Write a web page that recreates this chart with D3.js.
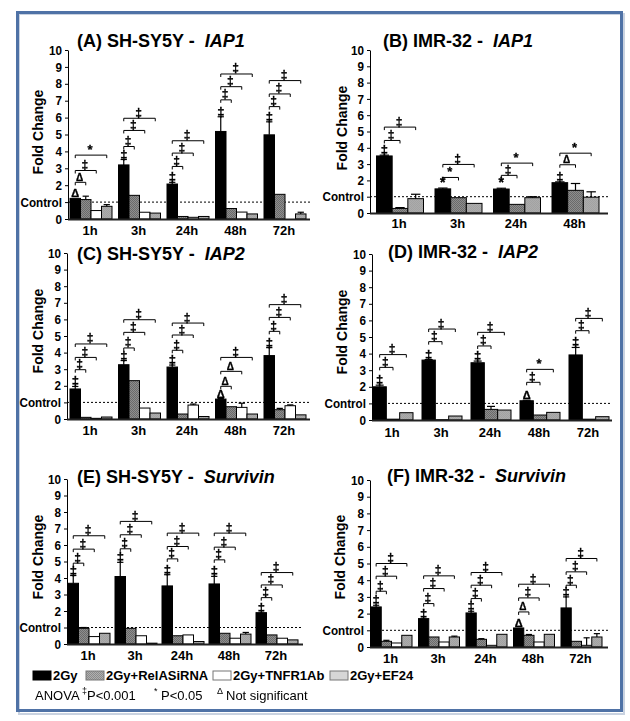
<!DOCTYPE html>
<html><head><meta charset="utf-8">
<script src="https://cdn.jsdelivr.net/npm/d3@7"></script>
<style>body{margin:0;background:#fff} text{font-family:"Liberation Sans",Arial,sans-serif;fill:#000}</style>
</head><body><svg id="c" width="630" height="721"></svg>
<script>
// ---------------- DATA ----------------
const timepoints = ["1h","3h","24h","48h","72h"];
const seriesNames = ["2Gy","2Gy+RelASiRNA","2Gy+TNFR1Ab","2Gy+EF24"];
const panelLetters = ["A","B","C","D","E","F"];
const cellLines = ["SH-SY5Y","IMR-32","SH-SY5Y","IMR-32","SH-SY5Y","IMR-32"];
const genes = ["IAP1","IAP1","IAP2","IAP2","Survivin","Survivin"];
const yTicks = [0,1,2,3,4,5,6,7,8,9,10];
const yTickLabels = ["0","Control","2","3","4","5","6","7","8","9","10"];

// (A) SH-SY5Y IAP1
const seriesA = [0,1,2,3];
const meanA = [[1.22,3.2,2.07,5.18,4.98],[1.15,1.4,0.15,0.62,1.46],[0.5,0.4,0.1,0.41,0],[0.75,0.35,0.15,0.3,0.3]];
const errA  = [[0,0.32,0.1,0.87,0.77],[0.2,0,0,0,0],[0,0,0,0,0],[0.1,0,0,0,0.1]];
const sigA  = ["Δ","‡","‡","‡","‡"];
const bracketA = [[[2.17,"Δ"],[2.87,"‡"],[3.78,"*"]],[[4.29,"‡"],[5.24,"‡"],[5.96,"‡"]],[[3.11,"‡"],[3.9,"‡"],[4.63,"‡"]],[[7.05,"‡"],[7.83,"‡"],[8.58,"‡"]],[[6.65,"‡"],[7.4,"‡"],[8.19,"‡"]]];

// (B) IMR-32 IAP1
const seriesB = [0,1,3];
const meanB = [[3.5,1.48,1.47,1.86],[0.28,0.94,0.53,1.39],[0.88,0.59,0.94,0.97]];
const errB  = [[0.05,0.05,0.05,0.05],[0.05,0,0,0.42],[0.27,0,0.06,0.33]];
const sigB  = ["‡","*","*","‡"];
const bracketB = [[[4.45,"‡"],[5.27,"‡"]],[[2.18,"*"],[2.98,"‡"]],[[2.31,"‡"],[3.06,"*"]],[[2.96,"Δ"],[3.67,"*"]]];

// (C) SH-SY5Y IAP2
const seriesC = [0,1,2,3];
const meanC = [[1.81,3.27,3.13,1.2,3.82],[0.1,2.31,0.3,0.74,0.56],[0.04,0.66,0.84,0.7,0.8],[0.12,0.36,0.15,0.3,0.25]];
const errC  = [[0.15,0.25,0.12,0.03,0.48],[0,0,0,0,0.08],[0,0,0.06,0.25,0.05],[0,0,0,0,0]];
const sigC  = ["‡","‡","‡","Δ","‡"];
const bracketC = [[[2.97,"‡"],[3.71,"‡"],[4.52,"‡"]],[[4.28,"‡"],[5.22,"‡"],[5.98,"‡"]],[[4.14,"‡"],[5.06,"‡"],[5.78,"‡"]],[[1.97,"Δ"],[2.87,"Δ"],[3.71,"‡"]],[[5.28,"‡"],[6.12,"‡"],[6.89,"‡"]]];

// (D) IMR-32 IAP2
const seriesD = [0,1,3];
const meanD = [[2.0,3.61,3.45,1.16,3.92],[0.05,0.02,0.64,0.3,0.05],[0.44,0.24,0.6,0.46,0.2]];
const errD  = [[0.1,0.03,0.1,0.03,0.45],[0,0,0.18,0,0],[0,0,0,0,0]];
const sigD  = ["‡","‡","‡","Δ","‡"];
const bracketD = [[[3.17,"‡"],[3.94,"‡"]],[[4.72,"‡"],[5.48,"‡"]],[[4.46,"‡"],[5.28,"‡"]],[[2.27,"‡"],[3.05,"*"]],[[5.38,"‡"],[6.12,"‡"]]];

// (E) SH-SY5Y Survivin
const seriesE = [0,1,2,3];
const meanE = [[3.68,4.09,3.52,3.64,1.9],[0.95,0.95,0.5,0.65,0.55],[0.45,0.5,0.55,0.35,0.35],[0.65,0.05,0.15,0.6,0.25]];
const errE  = [[0.47,0.86,0.68,0.46,0],[0.05,0,0,0,0],[0,0,0,0,0],[0,0,0,0.1,0]];
const sigE  = ["‡","‡","‡","‡","‡"];
const bracketE = [[[4.9,"‡"],[5.75,"‡"],[6.56,"‡"]],[[5.77,"‡"],[6.62,"‡"],[7.43,"‡"]],[[5.16,"‡"],[5.91,"‡"],[6.72,"‡"]],[[5.1,"‡"],[5.87,"‡"],[6.72,"‡"]],[[2.81,"‡"],[3.58,"‡"],[4.33,"‡"]]];

// (F) IMR-32 Survivin
const seriesF = [0,1,2,3];
const meanF = [[2.4,1.7,2.04,1.14,2.34],[0.34,0.6,0.46,0.7,0.34],[0.24,0.3,0.1,0.3,0.1],[0.7,0.6,0.76,0.76,0.6]];
const errF  = [[0.1,0,0.1,0,0.66],[0.06,0,0.04,0.05,0],[0,0,0,0,0.45],[0,0.05,0,0,0.2]];
const sigF  = ["‡","‡","‡","Δ","‡"];
const bracketF = [[[3.34,"‡"],[4.24,"‡"],[5.0,"‡"]],[[2.6,"‡"],[3.5,"‡"],[4.26,"‡"]],[[2.9,"‡"],[3.7,"‡"],[4.46,"‡"]],[[2.1,"Δ"],[2.94,"‡"],[3.76,"‡"]],[[3.7,"‡"],[4.5,"‡"],[5.3,"‡"]]];

const panelData = [
  {series:seriesA, mean:meanA, err:errA, sig:sigA, br:bracketA},
  {series:seriesB, mean:meanB, err:errB, sig:sigB, br:bracketB},
  {series:seriesC, mean:meanC, err:errC, sig:sigC, br:bracketC},
  {series:seriesD, mean:meanD, err:errD, sig:sigD, br:bracketD},
  {series:seriesE, mean:meanE, err:errE, sig:sigE, br:bracketE},
  {series:seriesF, mean:meanF, err:errF, sig:sigF, br:bracketF}
];

// ---------------- LAYOUT ----------------
const layout = [
 {x0:68,x1:310,yb:219,yt:50,gs:70,step:48.5,gw:42,tx:77,ty:47,ly:235,fx:38,fy:132},
 {x0:370,x1:608,yb:213,yt:50,gs:376.5,step:58.5,gw:47,tx:383,ty:47,ly:228,fx:342,fy:128},
 {x0:67,x1:310,yb:419,yt:253,gs:70,step:48.5,gw:42,tx:77,ty:260,ly:435,fx:38,fy:331},
 {x0:372,x1:612,yb:420,yt:254,gs:373,step:49,gw:40,tx:388,ty:258,ly:437,fx:342,fy:332},
 {x0:67,x1:303,yb:644,yt:479,gs:68,step:47,gw:42,tx:77,ty:483,ly:660,fx:38,fy:557},
 {x0:370,x1:608,yb:647,yt:480,gs:371,step:47.5,gw:41,tx:387,ty:482,ly:663,fx:340,fy:557}
];

const symFont = "'DejaVu Sans',sans-serif";
const svg = d3.select("#c");
const defs = svg.append("defs");
function checker(id, base, dot){
  const p = defs.append("pattern").attr("id",id).attr("width",2).attr("height",2).attr("patternUnits","userSpaceOnUse");
  p.append("rect").attr("width",2).attr("height",2).attr("fill",base);
  p.append("rect").attr("width",1).attr("height",1).attr("fill",dot);
  p.append("rect").attr("x",1).attr("y",1).attr("width",1).attr("height",1).attr("fill",dot);
}
checker("pRel","#8e8e8e","#6a6a6a");
checker("pRelLeg","#b0b0b0","#8a8a8a");
checker("pEF","#acacac","#a2a2a2");
const grayF = defs.append("filter").attr("id","gray");
grayF.append("feColorMatrix").attr("type","saturate").attr("values",0);
const barFill = ["#000","url(#pRel)","#fff","url(#pEF)"];
const legFill = ["#000","url(#pRelLeg)","#fff","#d6d6d6"];

// frame
svg.append("rect").attr("x",19).attr("y",14).attr("width",605).attr("height",700).attr("fill","none").attr("stroke","#c9d2e0").attr("stroke-width",2);
svg.append("rect").attr("x",17.5).attr("y",12.5).attr("width",604).attr("height",698).attr("fill","none").attr("stroke","#4f72a6").attr("stroke-width",3);

function symSize(s){ return s==="‡"?12:(s==="Δ"?10:13); }

panelData.forEach((pd,pi)=>{
  const L = layout[pi];
  const n = pd.mean[0].length;
  const tps = timepoints.slice(0,n);
  const g = svg.append("g");
  const x = d3.scaleBand().domain(tps).range([L.gs, L.gs+(n-1)*L.step+L.gw]).paddingInner((L.step-L.gw)/L.step).paddingOuter(0);
  const xi = d3.scaleBand().domain(pd.series).range([0, x.bandwidth()]);
  const y = d3.scaleLinear().domain([0,10]).range([L.yb, L.yt]);

  // control dotted line
  g.append("line").attr("x1",L.x0).attr("x2",L.x1).attr("y1",y(1)).attr("y2",y(1))
    .attr("stroke","#000").attr("stroke-width",1).attr("stroke-dasharray","2,2");

  // bars
  pd.series.forEach((s,r)=>{
    tps.forEach((tp,i)=>{
      const v = pd.mean[r][i];
      const bx = x(tp)+xi(s), bw = xi.bandwidth();
      if (v>0) g.append("rect").attr("x",bx).attr("y",y(v)).attr("width",bw).attr("height",L.yb-y(v))
        .attr("fill",barFill[s]).attr("stroke","#000").attr("stroke-width",1);
      const e = pd.err[r][i];
      if (e>0){
        const cx = bx+bw/2;
        g.append("line").attr("x1",cx).attr("x2",cx).attr("y1",y(v)).attr("y2",y(v+e)).attr("stroke","#000").attr("stroke-width",1.2);
        g.append("line").attr("x1",cx-bw*0.3).attr("x2",cx+bw*0.3).attr("y1",y(v+e)).attr("y2",y(v+e)).attr("stroke","#000").attr("stroke-width",1.2);
      }
    });
  });

  // annotations
  const ga = g.append("g").attr("filter","url(#gray)");
  const s0 = pd.series[0];
  tps.forEach((tp,i)=>{
    const cx0 = x(tp)+xi(s0)+xi.bandwidth()/2;
    const top = pd.mean[0][i]+pd.err[0][i];
    const sym = pd.sig[i];
    ga.append("text").attr("x",cx0).attr("y",y(top)-1).attr("text-anchor","middle")
      .attr("font-family",symFont).attr("font-weight","bold").attr("font-size",symSize(sym)+1)
      .attr("stroke","#000").attr("stroke-width",0.35).text(sym);
    pd.br[i].forEach((b,k)=>{
      const s = pd.series[k+1];
      const cx1 = x(tp)+xi(s)+xi.bandwidth()/2;
      const by = y(b[0]);
      ga.append("path").attr("d",`M${cx0},${by+3}V${by}H${cx1}V${by+3}`).attr("fill","none").attr("stroke","#000").attr("stroke-width",1);
      ga.append("text").attr("x",(cx0+cx1)/2-1).attr("y",by-1.5).attr("text-anchor","middle")
        .attr("font-family",symFont).attr("font-weight","bold").attr("font-size",symSize(b[1]))
        .attr("stroke","#000").attr("stroke-width",0.3).text(b[1]);
    });
  });

  // y axis
  const ya = g.append("g").attr("transform",`translate(${L.x0},0)`)
    .call(d3.axisLeft(y).tickValues(yTicks).tickFormat((d,i)=>yTickLabels[i]).tickSize(3).tickSizeOuter(0).tickPadding(3));
  ya.selectAll("text").attr("font-weight","bold").attr("font-size",13).attr("fill","#000")
    .attr("font-family","'Liberation Sans',Arial,sans-serif")
    .attr("transform","scale(0.9,1)").attr("x",function(){return -6/0.9;});
  ya.selectAll("line,path").attr("stroke","#000");

  // x axis
  g.append("line").attr("x1",L.x0).attr("x2",L.x1).attr("y1",L.yb+0.5).attr("y2",L.yb+0.5).attr("stroke","#222").attr("stroke-width",2);
  g.selectAll(".xl").data(tps).enter().append("text").attr("class","xl")
    .attr("x",d=>x(d)+x.bandwidth()/2-1).attr("y",L.ly).attr("text-anchor","middle")
    .attr("font-weight","bold").attr("font-size",13).text(d=>d);

  // y label
  g.append("text").attr("transform",`translate(${L.fx+5},${L.fy}) rotate(-90)`).attr("text-anchor","middle")
    .attr("font-weight","bold").attr("font-size",14).text("Fold Change");

  // title
  const t = g.append("text").attr("x",L.tx).attr("y",L.ty).attr("font-weight","bold").attr("font-size",18);
  t.append("tspan").text(`(${panelLetters[pi]}) ${cellLines[pi]} - \u00a0`);
  t.append("tspan").attr("font-style","italic").text(genes[pi]);
});

// legend
const legX = [33,86,213,330];
seriesNames.forEach((nm,i)=>{
  svg.append("rect").attr("x",legX[i]).attr("y",671).attr("width",18).attr("height",9)
    .attr("fill",legFill[i]).attr("stroke",i===0?"#000":"#777").attr("stroke-width",1);
  svg.append("text").attr("x",legX[i]+20).attr("y",680).attr("font-weight","bold").attr("font-size",13).text(nm);
});
const note = [
  {x:35, t:"ANOVA", sup:false},
  {x:82, t:"‡", sup:true},
  {x:87, t:"P<0.001", sup:false},
  {x:154, t:"*", sup:true},
  {x:161, t:"P<0.05", sup:false},
  {x:217, t:"Δ", sup:true},
  {x:226, t:"Not significant", sup:false}
];
const gn = svg.append("g").attr("filter","url(#gray)");
note.forEach(d=>{
  gn.append("text").attr("x",d.x).attr("y",d.sup?694:700).attr("font-size",d.sup?9:13)
    .attr("font-family",d.sup?symFont:null).text(d.t);
});
</script></body></html>
